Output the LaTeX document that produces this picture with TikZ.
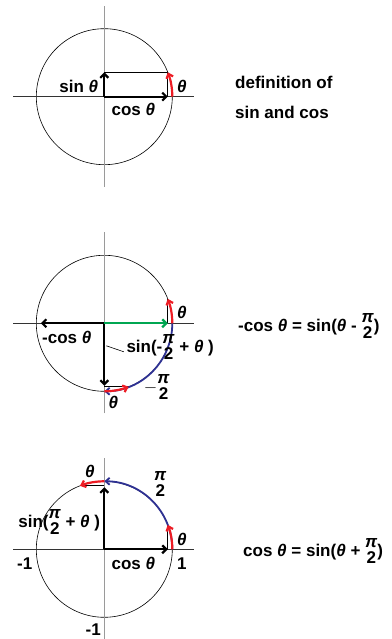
\documentclass[tikz,border=0pt]{standalone}
\usepackage{fontspec}
\setmainfont{Liberation Sans}
\usetikzlibrary{calc,arrows.meta}
\definecolor{arcred}{HTML}{ED1C24}
\definecolor{arcblue}{HTML}{2E3192}
\definecolor{vecgreen}{HTML}{00A651}
\definecolor{axisgray}{HTML}{9A9A9A}
\newcommand{\thet}{\textit{θ}}
\newcommand{\halfpi}{\begin{tabular}{@{}c@{}}\textit{π}\\[-2pt]2\end{tabular}}

\begin{document}
\begin{tikzpicture}[x=1pt, y=1pt,
  lbl/.style={font=\fontsize{17}{18}\selectfont\bfseries, inner sep=1pt},
  vec/.style={line width=2.2pt, -{Straight Barb[length=4pt,width=8pt]}},
  redarc/.style={arcred, line width=2.2pt, -{Straight Barb[length=4pt,width=7pt]}},
  bluearc/.style={arcblue, line width=1.8pt, -{Straight Barb[length=4pt,width=7pt]}}]
  \useasboundingbox (0,0) rectangle (391,639);
  \coordinate (O1) at (104.3,542.3);
  \coordinate (O2) at (104.3,315.7);
  \coordinate (O3) at (104.3,89.7);

  % unit circles and axes
  \foreach \c in {O1,O2,O3} {
    \draw[line width=0.6pt] (\c) circle[radius=68];
    \draw[line width=0.8pt, black!80] ($(\c)+(-91,0)$) -- ($(\c)+(90,0)$);
    \draw[line width=1.2pt, axisgray] ($(\c)+(0,-90)$) -- ($(\c)+(0,91)$);
  }

  % Circle 1: definition
  \begin{scope}[shift={(O1)}]
    \draw[line width=0.7pt] (0,24.4) -- (63.5,24.4) -- (63.5,0);
    \draw[vec] (0,0) -- (0,24.4);
    \draw[vec] (0,0) -- (63.5,0);
    \draw[redarc] (0:68) arc[start angle=0, end angle=21, radius=68];
    \node[lbl, anchor=east] at (-5,10) {sin \thet};
    \node[lbl] at (29,-12.5) {cos \thet};
    \node[lbl] at (77.5,10) {\thet};
  \end{scope}
  \node[lbl, anchor=west] at (234,557) {definition of};
  \node[lbl, anchor=west] at (234,527) {sin and cos};

  % Circle 2: -cos
  \begin{scope}[shift={(O2)}]
    \draw[line width=0.7pt] (63.5,0) -- (63.5,24.4);
    \draw[line width=0.7pt] (0,-63.5) -- (24.4,-63.5);
    \draw[vec] (0,0) -- (-63.5,0);
    \draw[vec] (0,0) -- (0,-62.5);
    \draw[vec, vecgreen] (0,0) -- (63.5,0);
    \draw[bluearc] (0:68) arc[start angle=0, end angle=-90, radius=68];
    \draw[redarc] (-90:68) arc[start angle=-90, end angle=-69, radius=68];
    \draw[redarc] (0:68) arc[start angle=0, end angle=21, radius=68];
    \draw[line width=0.6pt] (2,-22.5) -- (19.5,-28.5);
    \node[lbl] at (-37.5,-14) {-cos \thet};
    \node[lbl, anchor=west] at (21,-25) {sin(-\halfpi\ + \thet\ )};
    \node[lbl] at (52.5,-65) {$-$\halfpi};
    \node[lbl] at (9,-79.5) {\thet};
    \node[lbl] at (77.5,10.5) {\thet};
  \end{scope}
  \node[lbl, anchor=west] at (237,312.3) {-cos \thet\ = sin(\thet\ - \halfpi)};

  % Circle 3: cos
  \begin{scope}[shift={(O3)}]
    \draw[line width=0.7pt] (63.5,0) -- (63.5,24.4);
    \draw[line width=0.7pt] (0,63.5) -- (-24.4,63.5);
    \draw[vec] (0,0) -- (0,62);
    \draw[vec] (0,0) -- (63.5,0);
    \draw[bluearc] (0:68) arc[start angle=0, end angle=90, radius=68];
    \draw[redarc] (90:68) arc[start angle=90, end angle=111, radius=68];
    \draw[redarc] (0:68) arc[start angle=0, end angle=21, radius=68];
    \node[lbl] at (-14.5,77.5) {\thet};
    \node[lbl] at (56,64.5) {\halfpi};
    \node[lbl, anchor=east] at (-3,26) {sin(\halfpi\ + \thet\ )};
    \node[lbl] at (77.5,9.5) {\thet};
    \node[lbl] at (-79.5,-14) {-1};
    \node[lbl] at (29,-14) {cos \thet};
    \node[lbl] at (77.5,-14) {1};
    \node[lbl] at (-11,-80.5) {-1};
  \end{scope}
  \node[lbl, anchor=west] at (242,87.3) {cos \thet\ = sin(\thet\ + \halfpi)};
\end{tikzpicture}
\end{document}
